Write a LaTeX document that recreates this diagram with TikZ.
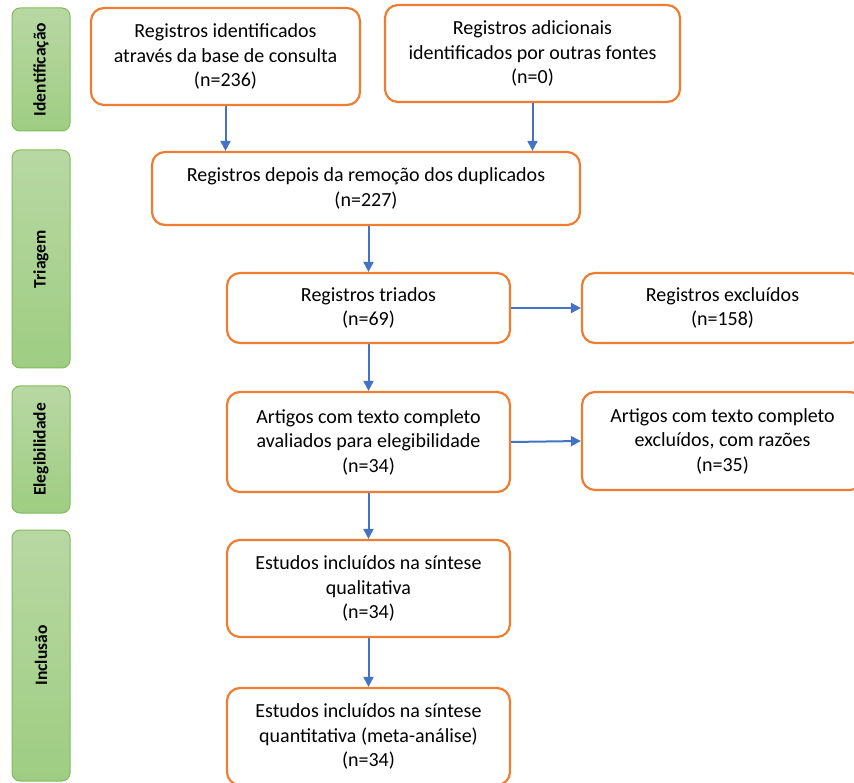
\documentclass[tikz,border=0pt]{standalone}
\usepackage{fontspec}
\setmainfont{Carlito}
\usetikzlibrary{arrows.meta,positioning}

\definecolor{boxorange}{RGB}{237,125,49}
\definecolor{arrowblue}{RGB}{68,114,196}
\definecolor{stagetop}{RGB}{184,216,163}
\definecolor{stagebot}{RGB}{158,205,130}
\definecolor{stageline}{RGB}{128,188,92}

\tikzset{
    record/.style={draw=boxorange, line width=2.2pt, rounded corners=13pt,
        fill=white, align=center, inner sep=0pt,
        font=\fontsize{20}{24.5}\selectfont},
    stage/.style={draw=stageline, line width=1pt, rounded corners=8pt,
        rotate=90, top color=stagetop, bottom color=stagebot,
        minimum height=58pt, inner sep=0pt,
        font=\bfseries\fontsize{17.5}{20}\selectfont},
    flow/.style={draw=arrowblue, line width=2pt,
        -{Triangle[length=10pt,width=10pt]}}
}

\begin{document}
\begin{tikzpicture}[x=1pt,y=-1pt]
    \useasboundingbox (0,0) rectangle (854,783);
    \clip (0,0) rectangle (854,783);

    % phases
    \node[stage, minimum width=123pt] (ident) at (41,69.5) {Identificação};
    \node[stage, minimum width=218pt] (triagem) at (41,259) {Triagem};
    \node[stage, minimum width=127pt] (eleg) at (41,449.5) {Elegibilidade};
    \node[stage, minimum width=251pt] (incl) at (41,655.5) {Inclusão};

    % records
    \node[record, minimum width=269pt, minimum height=97pt] (reg) at (225.5,56.5)
        {Registros identificados\\através da base de consulta\\(n=236)};
    \node[record, minimum width=295pt, minimum height=97pt] (adic) at (532.5,53.5)
        {Registros adicionais\\identificados por outras fontes\\(n=0)};
    \node[record, minimum width=428pt, minimum height=73pt] (dup) at (366,188.5)
        {Registros depois da remoção dos duplicados\\(n=227)};
    \node[record, minimum width=283pt, minimum height=70pt] (triados) at (368.5,308)
        {Registros triados\\(n=69)};
    \node[record, minimum width=281pt, minimum height=70pt] (excl) at (722.5,308)
        {Registros excluídos\\(n=158)};
    \node[record, minimum width=283pt, minimum height=100pt] (aval) at (368.5,442)
        {Artigos com texto completo\\avaliados para elegibilidade\\(n=34)};
    \node[record, minimum width=281pt, minimum height=98pt] (exclart) at (722.5,441)
        {Artigos com texto completo\\excluídos, com razões\\(n=35)};
    \node[record, minimum width=283pt, minimum height=97pt] (quali) at (368.5,588.5)
        {Estudos incluídos na síntese\\qualitativa\\(n=34)};
    \node[record, minimum width=283pt, minimum height=97pt] (quanti) at (368.5,736.5)
        {Estudos incluídos na síntese\\quantitativa (meta-análise)\\(n=34)};

    % connectors
    \draw[flow] (reg.south) -- (reg.south |- dup.north);
    \draw[flow] (adic.south) -- (adic.south |- dup.north);
    \draw[flow] (triados.north |- dup.south) -- (triados.north);
    \draw[flow] (triados.east) -- (excl.west);
    \draw[flow] (triados.south) -- (aval.north);
    \draw[flow] (aval.east) -- (exclart.west);
    \draw[flow] (aval.south) -- (quali.north);
    \draw[flow] (quali.south) -- (quanti.north);
\end{tikzpicture}
\end{document}
